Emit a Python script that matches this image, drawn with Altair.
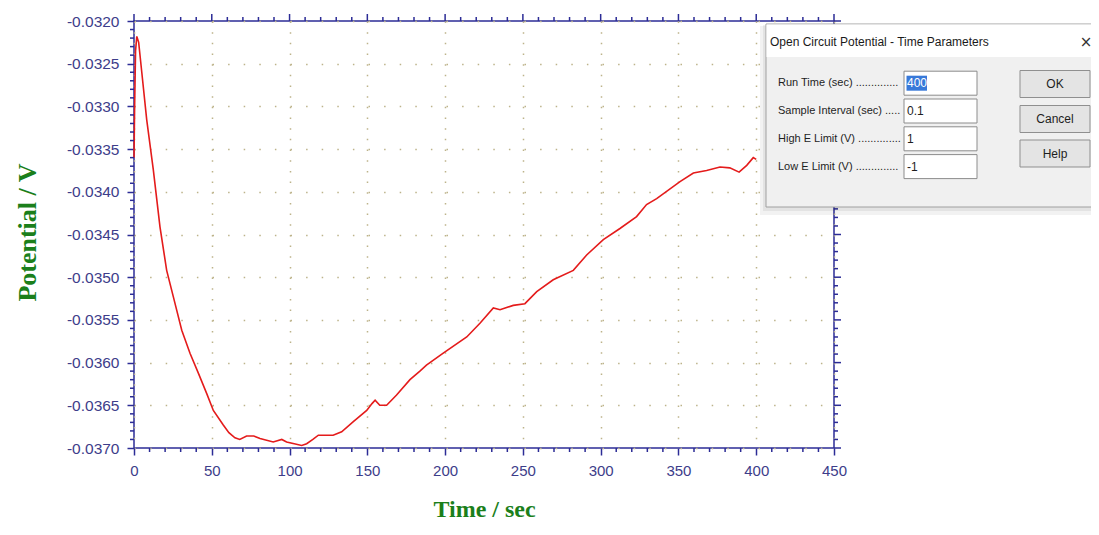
import altair as alt
import pandas as pd

# ---- data ----
time_s = [0, 0.4, 1.0, 1.8, 3.0, 5.0, 8.2, 12.4, 16.7, 21.0, 25.3, 30.7, 36.0, 41.3,
          46.7, 51.0, 57.4, 61.0, 64.9, 68.0, 72.4, 77.0, 81.0, 89.5, 95.0, 98.1,
          103.0, 107.8, 111.0, 115.0, 118.5, 124.0, 128.0, 133.5, 141.0, 149.6, 153.0,
          155.0, 158.0, 162.4, 168.8, 177.4, 183.8, 188.0, 198.8, 213.9, 222.4, 231.0,
          235.3, 243.8, 251.3, 258.9, 269.5, 282.4, 291.0, 301.7, 312.4, 323.1, 329.5,
          336.0, 351.0, 359.6, 368.1, 376.7, 383.0, 389.0, 393.9, 398.1, 400.0]
potential_v = [-0.03360, -0.03300, -0.03235, -0.03218, -0.03225, -0.03260, -0.03316,
               -0.03374, -0.03441, -0.03492, -0.03523, -0.03562, -0.03589, -0.03612,
               -0.03636, -0.03656, -0.03673, -0.03682, -0.03688, -0.03690, -0.03686,
               -0.03686, -0.03689, -0.03693, -0.03690, -0.03693, -0.03695, -0.03697,
               -0.03695, -0.03690, -0.03685, -0.03685, -0.03685, -0.03681, -0.03669,
               -0.03656, -0.03648, -0.03644, -0.03650, -0.03650, -0.03638, -0.03620,
               -0.03610, -0.03603, -0.03589, -0.03570, -0.03554, -0.03536, -0.03538,
               -0.03533, -0.03531, -0.03517, -0.03503, -0.03492, -0.03474, -0.03456,
               -0.03443, -0.03429, -0.03415, -0.03408, -0.03388, -0.03378, -0.03375,
               -0.03371, -0.03372, -0.03377, -0.03369, -0.03360, -0.03362]

x_major = [0, 50, 100, 150, 200, 250, 300, 350, 400, 450]
x_minor = [v for v in range(0, 451, 10) if v % 50 != 0]
y_major = [-0.0370, -0.0365, -0.0360, -0.0355, -0.0350, -0.0345, -0.0340,
           -0.0335, -0.0330, -0.0325, -0.0320]
y_minor = [round(-0.0370 + 0.0001 * i, 4) for i in range(51) if i % 5 != 0]

x_title = "Time / sec"
y_title = "Potential / V"

dialog_title = "Open Circuit Potential - Time Parameters"
param_labels = ["Run Time (sec) ..............", "Sample Interval (sec) .....",
                "High E Limit (V) ..............", "Low E Limit (V) .............."]
param_values = ["400", "0.1", "1", "-1"]
button_labels = ["OK", "Cancel", "Help"]

# ---- styling ----
W, H = 700, 427
NAVY = "#2c2c96"
LABEL = "#3d3d8a"
GREEN = "#1b7f1b"
GRID = "#bdb38a"
RED = "#e41b1b"
SANS = "Liberation Sans, Arial, sans-serif"
SERIF = "Liberation Serif, Times New Roman, serif"

curve = pd.DataFrame({"t": time_s, "p": potential_v})
xs = alt.Scale(domain=[0, 450], nice=False, zero=False)
ys = alt.Scale(domain=[-0.0370, -0.0320], nice=False, zero=False)

main = alt.Chart(curve).mark_line(color=RED, strokeWidth=1.6).encode(
    x=alt.X("t:Q", scale=xs, axis=alt.Axis(
        values=x_major, title=x_title, grid=True, gridColor=GRID, gridWidth=1.5,
        gridDash=[1.5, 9.17], domain=False, tickSize=7, tickWidth=1.5, tickColor=NAVY,
        labelFont=SANS, labelFontSize=15, labelColor=LABEL, labelPadding=8,
        labelFlush=False, labelOverlap=False,
        titleFont=SERIF, titleFontSize=24, titleFontWeight="bold", titleColor=GREEN,
        titleX=W / 2, titleY=61, titleBaseline="middle", titleAlign="center")),
    y=alt.Y("p:Q", scale=ys, axis=alt.Axis(
        values=y_major, title=y_title, grid=True, gridColor=GRID, gridWidth=1.5,
        gridDash=[1.5, 14.1], domain=False, tickSize=7, tickWidth=1.5, tickColor=NAVY,
        labelFont=SANS, labelFontSize=15.5, labelColor=LABEL, labelPadding=8,
        labelFlush=False, labelOverlap=False,
        labelExpr="replace(format(datum.value, '.4f'), '\u2212', '-')",
        titleFont=SERIF, titleFontSize=26, titleFontWeight="bold", titleColor=GREEN,
        titleX=-107, titleY=211, titleBaseline="middle", titleAngle=-90,
        titleAlign="center")),
)

def xrule(vals, y1, y2):
    return alt.Chart(pd.DataFrame({"t": vals})).mark_rule(
        color=NAVY, strokeWidth=1.5).encode(
        x=alt.X("t:Q", scale=xs), y=alt.value(y1), y2=alt.value(y2))

def yrule(vals, x1, x2):
    return alt.Chart(pd.DataFrame({"p": vals})).mark_rule(
        color=NAVY, strokeWidth=1.5).encode(
        y=alt.Y("p:Q", scale=ys), x=alt.value(x1), x2=alt.value(x2))

ticks = [
    xrule(x_minor, H, H + 4),
    xrule(x_major, 0, -7), xrule(x_minor, 0, -4),
    yrule(y_minor, 0, -4),
    yrule(y_major, W, W + 7), yrule(y_minor, W, W + 4),
]

one = pd.DataFrame({"k": [0]})

def box(x1, x2, y1, y2, **kw):
    return alt.Chart(one).mark_rect(**kw).encode(
        x=alt.value(x1), x2=alt.value(x2), y=alt.value(y1), y2=alt.value(y2))

def label(txt, x, y, **kw):
    return alt.Chart(one).mark_text(baseline="middle", **kw).encode(
        x=alt.value(x), y=alt.value(y), text=alt.value(txt))

# dialog (chart coords = page coords - (134, 21))
DL, DR, DT, DB = 632, 960, 3, 186
dialog = [
    box(DL - 6, DR, DT + 2, DB + 8, color="#000000", opacity=0.05),
    box(DL - 3, DR, DT + 1, DB + 4, color="#000000", opacity=0.06),
    box(DL, DR, DT, DB, fill="#f0f0f0", stroke="#a0a0a0", strokeWidth=1),
    box(DL + 0.5, DR, DT + 0.5, 36, fill="#ffffff"),
    label(dialog_title, 636, 21, align="left", font=SANS, fontSize=12,
          color="#1a1a1a"),
    label("\u00d7", 952, 21, align="center", font="DejaVu Sans", fontSize=15,
          color="#333333"),
]
for i, (lab, val) in enumerate(zip(param_labels, param_values)):
    cy = 62.2 + 27.8 * i
    dialog.append(label(lab, 644, cy, align="left", font=SANS, fontSize=11,
                        color="#1e1e1e"))
    dialog.append(box(770, 843, cy - 12, cy + 12, fill="#ffffff", stroke="#8c8c8c",
                      strokeWidth=1))
    if i == 0:
        dialog.append(box(772.5, 793, cy - 7.5, cy + 7.5, fill="#3879d9"))
        dialog.append(label(val, 773, cy, align="left", font=SANS, fontSize=12,
                            color="#ffffff"))
    else:
        dialog.append(label(val, 773, cy, align="left", font=SANS, fontSize=12,
                            color="#1e1e1e"))
for lab, cy in zip(button_labels, [63, 98, 132.5]):
    dialog.append(box(886, 956, cy - 13.5, cy + 13.5, fill="#e4e4e4", stroke="#8f8f8f",
                      strokeWidth=1))
    dialog.append(label(lab, 921, cy, align="center", font=SANS, fontSize=12,
                        color="#1e1e1e"))

chart = alt.layer(main, *ticks, *dialog).properties(
    width=W, height=H,
    padding={"left": 126, "top": 13, "right": 257, "bottom": 74},
    autosize=alt.AutoSizeParams(type="none"),
).configure(background="#ffffff").configure_view(stroke=NAVY, strokeWidth=1.5)

chart.save("out.html", embed_options={"renderer": "svg", "actions": False})
